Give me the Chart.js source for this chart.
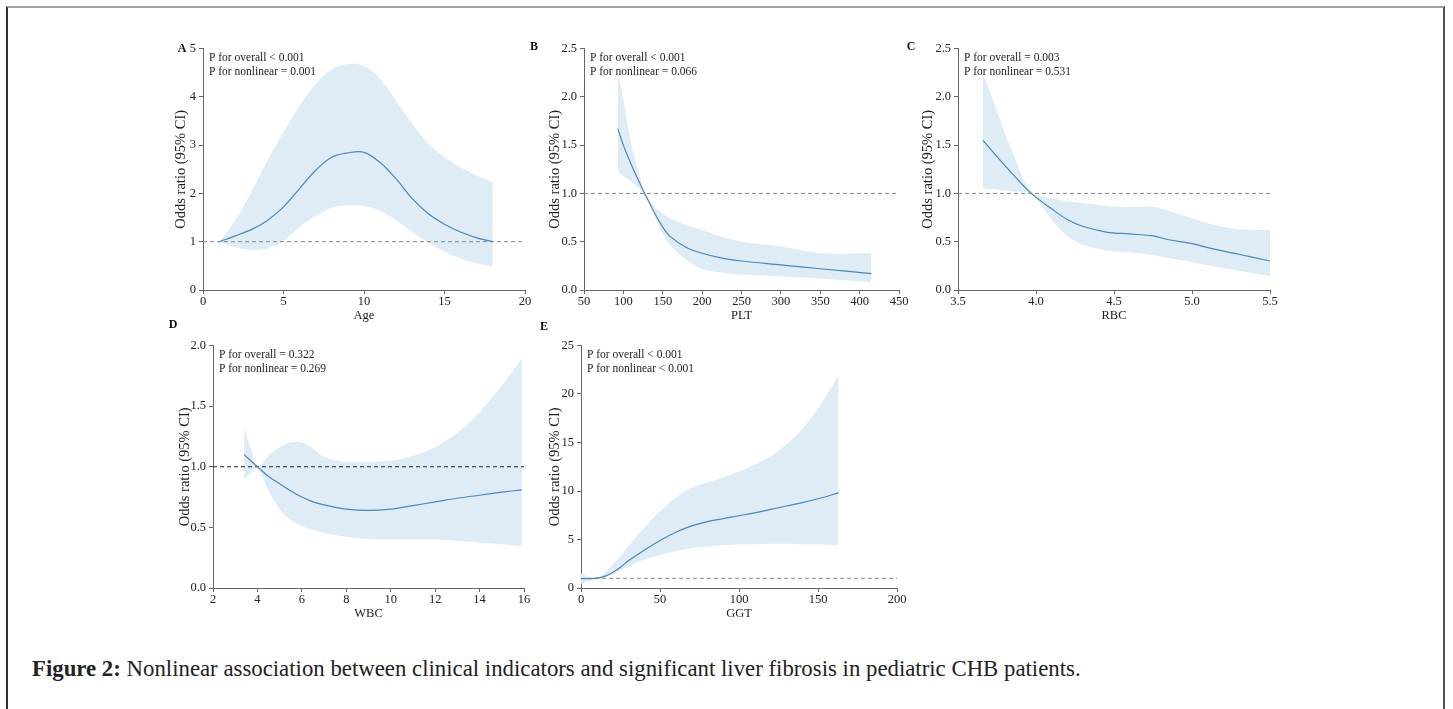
<!DOCTYPE html>
<html>
<head>
<meta charset="utf-8">
<script src="https://cdn.jsdelivr.net/npm/chart.js@4.4.1/dist/chart.umd.min.js"></script>
<style>
  html, body { margin: 0; padding: 0; background: #fff; }
  body { width: 1453px; height: 709px; position: relative; overflow: hidden; font-family: 'Liberation Serif', 'Times New Roman', serif; }
  .frame { position: absolute; left: 6px; top: 6px; width: 1435px; height: 740px; border-top: 2px solid #a0a0a0; border-left: 2px solid #333; border-right: 2px solid #555; }
  canvas { position: absolute; }
  .tag { position: absolute; font-weight: bold; font-size: 12px; color: #111; transform: translate(-50%, -50%); }
  .caption { position: absolute; left: 32px; top: 656px; font-size: 22.8px; line-height: 26px; color: #222; white-space: nowrap; }
</style>
</head>
<body>
<div class="frame"></div>

<canvas id="cA" width="365" height="285" style="left:172px;top:38px"></canvas>
<canvas id="cB" width="365" height="285" style="left:546px;top:38px"></canvas>
<canvas id="cC" width="363" height="285" style="left:919px;top:38px"></canvas>
<canvas id="cD" width="360" height="286" style="left:176px;top:335px"></canvas>
<canvas id="cE" width="363" height="286" style="left:546px;top:335px"></canvas>

<div class="tag" style="left:182px;top:48px">A</div>
<div class="tag" style="left:534px;top:46px">B</div>
<div class="tag" style="left:911px;top:46px">C</div>
<div class="tag" style="left:173px;top:324px">D</div>
<div class="tag" style="left:544px;top:326px">E</div>

<div class="caption"><b>Figure 2:</b> Nonlinear association between clinical indicators and significant liver fibrosis in pediatric CHB patients.</div>

<script>
// --- data ---
var ageX  = [1, 2, 3, 4, 5, 6, 7, 8, 9, 10, 11, 12, 13, 14, 15, 16, 17, 18];
var ageOR = [1.00, 1.12, 1.25, 1.44, 1.72, 2.10, 2.48, 2.75, 2.84, 2.85, 2.64, 2.30, 1.89, 1.58, 1.36, 1.20, 1.08, 1.00];
var ageUp = [1.00, 1.44, 2.03, 2.68, 3.27, 3.82, 4.26, 4.57, 4.68, 4.64, 4.37, 3.92, 3.44, 3.03, 2.75, 2.54, 2.37, 2.23];
var ageLo = [1.00, 0.89, 0.83, 0.86, 1.02, 1.31, 1.53, 1.71, 1.75, 1.74, 1.64, 1.44, 1.20, 0.98, 0.79, 0.65, 0.55, 0.48];

var pltX  = [93, 100, 110, 120, 127, 140, 150, 160, 180, 200, 225, 250, 300, 350, 415];
var pltOR = [1.67, 1.50, 1.30, 1.12, 1.00, 0.79, 0.65, 0.55, 0.44, 0.38, 0.33, 0.30, 0.26, 0.22, 0.17];
var pltUp = [2.25, 1.97, 1.51, 1.20, 1.02, 0.86, 0.79, 0.74, 0.67, 0.62, 0.55, 0.50, 0.45, 0.38, 0.38];
var pltLo = [1.23, 1.18, 1.12, 1.05, 0.98, 0.76, 0.58, 0.46, 0.31, 0.22, 0.18, 0.16, 0.14, 0.12, 0.08];

var rbcX  = [3.66, 3.75, 3.85, 3.97, 4.1, 4.2, 4.3, 4.45, 4.6, 4.75, 4.85, 5.0, 5.15, 5.3, 5.5];
var rbcOR = [1.55, 1.38, 1.20, 1.00, 0.84, 0.73, 0.66, 0.60, 0.58, 0.56, 0.52, 0.48, 0.42, 0.37, 0.30];
var rbcUp = [2.25, 1.85, 1.42, 1.02, 0.95, 0.92, 0.90, 0.87, 0.86, 0.86, 0.82, 0.74, 0.67, 0.63, 0.62];
var rbcLo = [1.05, 1.04, 1.02, 0.99, 0.73, 0.56, 0.47, 0.41, 0.39, 0.36, 0.33, 0.29, 0.24, 0.20, 0.145];

var wbcX  = [3.4, 3.7, 4.0, 4.5, 5.0, 5.5, 6.0, 6.5, 7.0, 8.0, 9.0, 10.0, 11.0, 12.0, 13.0, 14.0, 15.0, 15.9];
var wbcOR = [1.10, 1.05, 1.00, 0.92, 0.86, 0.80, 0.75, 0.71, 0.685, 0.65, 0.64, 0.65, 0.68, 0.71, 0.74, 0.765, 0.79, 0.81];
var wbcUp = [1.33, 1.15, 1.00, 1.09, 1.16, 1.20, 1.20, 1.15, 1.08, 1.04, 1.04, 1.05, 1.09, 1.16, 1.28, 1.45, 1.67, 1.89];
var wbcLo = [0.90, 0.95, 1.00, 0.80, 0.65, 0.56, 0.51, 0.48, 0.455, 0.42, 0.405, 0.40, 0.40, 0.40, 0.39, 0.375, 0.36, 0.345];

var ggtX  = [0, 5, 10, 15, 20, 25, 30, 40, 50, 60, 70, 80, 90, 100, 110, 120, 130, 140, 150, 163];
var ggtOR = [0.96, 0.97, 1.02, 1.20, 1.60, 2.15, 2.80, 3.90, 4.90, 5.75, 6.40, 6.85, 7.15, 7.45, 7.75, 8.10, 8.45, 8.80, 9.20, 9.80];
var ggtUp = [1.50, 1.15, 1.05, 1.60, 2.40, 3.30, 4.30, 6.20, 7.90, 9.30, 10.3, 10.9, 11.4, 12.0, 12.7, 13.6, 14.8, 16.4, 18.5, 21.9];
var ggtLo = [0.45, 0.70, 0.90, 1.10, 1.40, 1.80, 2.20, 2.90, 3.40, 3.80, 4.10, 4.30, 4.40, 4.50, 4.50, 4.55, 4.55, 4.50, 4.50, 4.40];

// reference line OR = 1
var refY = [1, 1];

// axis ticks
var ageXTicks = [0, 5, 10, 15, 20],          ageYTicks = [0, 1, 2, 3, 4, 5];
var pltXTicks = [50, 100, 150, 200, 250, 300, 350, 400, 450], pltYTicks = [0, 0.5, 1.0, 1.5, 2.0, 2.5];
var rbcXTicks = [3.5, 4.0, 4.5, 5.0, 5.5],   rbcYTicks = [0, 0.5, 1.0, 1.5, 2.0, 2.5];
var wbcXTicks = [2, 4, 6, 8, 10, 12, 14, 16], wbcYTicks = [0, 0.5, 1.0, 1.5, 2.0];
var ggtXTicks = [0, 50, 100, 150, 200],      ggtYTicks = [0, 5, 10, 15, 20, 25];

var FONT = "'Liberation Serif', 'Times New Roman', serif";
var LINE = '#4a87b8';
var BAND = '#deecf6';
var AXIS = '#666';

// P-value notes in the top left of each plot area
var pNote = {
  id: 'pNote',
  afterDatasetsDraw: function (chart, args, opts) {
    var ctx = chart.ctx, area = chart.chartArea;
    ctx.save();
    ctx.font = '11.5px ' + FONT;
    ctx.fillStyle = '#222';
    ctx.textBaseline = 'middle';
    (opts.lines || []).forEach(function (t, i) {
      ctx.fillText(t, area.left + 6, area.top + 9.5 + i * 13.5);
    });
    ctx.restore();
  }
};
Chart.register(pNote);

function pts(xs, ys) {
  return xs.map(function (x, i) { return { x: x, y: ys[i] }; });
}

function fixed1(v) { return Number(v).toFixed(1); }
function plain(v) { return String(v); }

function axis(ticks, fmt, title, size, horizontal) {
  return {
    type: 'linear',
    min: ticks[0],
    max: ticks[ticks.length - 1],
    afterBuildTicks: function (s) { s.ticks = ticks.map(function (v) { return { value: v }; }); },
    afterFit: function (s) { if (horizontal) s.height = size; else s.width = size; },
    ticks: { font: { family: FONT, size: 12.5 }, color: '#222', padding: horizontal ? 0 : 3, maxRotation: 0, autoSkip: false, callback: fmt },
    border: { display: true, color: AXIS, width: 1 },
    grid: { display: true, drawOnChartArea: false, drawTicks: true, tickLength: 4, color: AXIS },
    title: { display: true, text: title, font: { family: FONT, size: horizontal ? 12.5 : 14.5 }, color: '#222', padding: { top: 0, bottom: 0 } }
  };
}

function makePanel(id, p) {
  var smooth = 0.35;
  new Chart(document.getElementById(id), {
    type: 'line',
    data: {
      datasets: [
        { data: pts(p.x, p.or), borderColor: LINE, borderWidth: 1.2, pointRadius: 0, tension: smooth, fill: false, order: 0 },
        { data: pts(p.refX, refY), borderColor: p.refColor, borderWidth: 1, borderDash: [4, 3], pointRadius: 0, fill: false, order: 1 },
        { data: pts(p.x, p.up), borderColor: 'rgba(0,0,0,0)', borderWidth: 0, backgroundColor: BAND, pointRadius: 0, tension: smooth, fill: '+1', order: 2 },
        { data: pts(p.x, p.lo), borderColor: 'rgba(0,0,0,0)', borderWidth: 0, pointRadius: 0, tension: smooth, fill: false, order: 3 }
      ]
    },
    options: {
      responsive: false,
      animation: false,
      devicePixelRatio: 1,
      layout: { padding: { top: 10, right: 12, bottom: 0, left: 0 } },
      plugins: { legend: { display: false }, tooltip: { enabled: false }, pNote: { lines: p.notes } },
      scales: {
        x: axis(p.xTicks, p.xFmt, p.xTitle, 33, true),
        y: axis(p.yTicks, p.yFmt, 'Odds ratio (95% CI)', p.yW, false)
      }
    }
  });
}

makePanel('cA', {
  x: ageX, or: ageOR, up: ageUp, lo: ageLo, refX: [0, 20], refColor: '#888',
  xTicks: ageXTicks, yTicks: ageYTicks, xFmt: plain, yFmt: plain, xTitle: 'Age', yW: 31,
  notes: ['P for overall < 0.001', 'P for nonlinear = 0.001']
});
makePanel('cB', {
  x: pltX, or: pltOR, up: pltUp, lo: pltLo, refX: [50, 450], refColor: '#888',
  xTicks: pltXTicks, yTicks: pltYTicks, xFmt: plain, yFmt: fixed1, xTitle: 'PLT', yW: 38,
  notes: ['P for overall < 0.001', 'P for nonlinear = 0.066']
});
makePanel('cC', {
  x: rbcX, or: rbcOR, up: rbcUp, lo: rbcLo, refX: [3.5, 5.5], refColor: '#888',
  xTicks: rbcXTicks, yTicks: rbcYTicks, xFmt: fixed1, yFmt: fixed1, xTitle: 'RBC', yW: 39,
  notes: ['P for overall = 0.003', 'P for nonlinear = 0.531']
});
makePanel('cD', {
  x: wbcX, or: wbcOR, up: wbcUp, lo: wbcLo, refX: [2, 16], refColor: '#222',
  xTicks: wbcXTicks, yTicks: wbcYTicks, xFmt: plain, yFmt: fixed1, xTitle: 'WBC', yW: 37,
  notes: ['P for overall = 0.322', 'P for nonlinear = 0.269']
});
makePanel('cE', {
  x: ggtX, or: ggtOR, up: ggtUp, lo: ggtLo, refX: [0, 200], refColor: '#888',
  xTicks: ggtXTicks, yTicks: ggtYTicks, xFmt: plain, yFmt: plain, xTitle: 'GGT', yW: 35,
  notes: ['P for overall < 0.001', 'P for nonlinear < 0.001']
});
</script>
</body>
</html>
